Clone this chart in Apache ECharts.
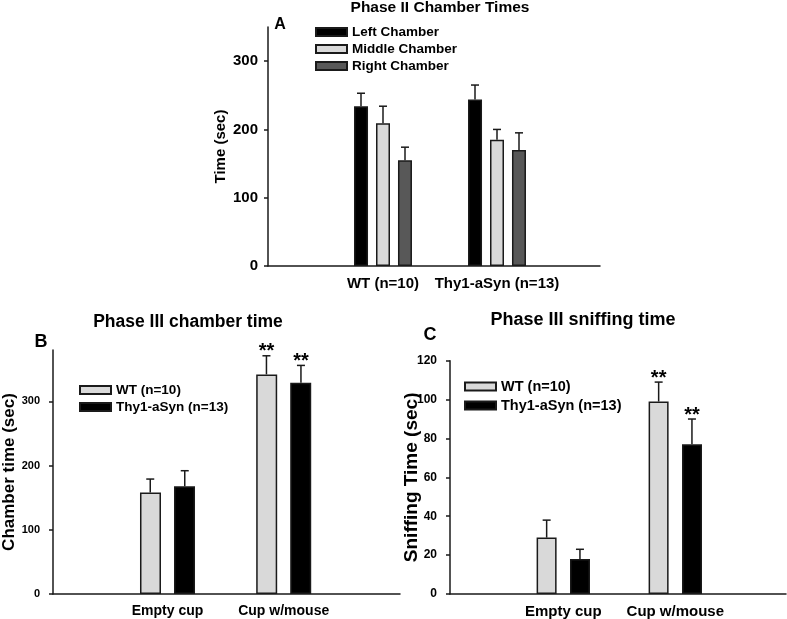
<!DOCTYPE html>
<html>
<head>
<meta charset="utf-8">
<script src="https://cdn.jsdelivr.net/npm/echarts@6/dist/echarts.min.js"></script>
<style>
  html, body { margin: 0; padding: 0; background: #fff; }
  #chart { width: 787px; height: 619px; }
</style>
</head>
<body>
<div id="chart"></div>
<script>
// Panel A: phase II chamber times
const groupsA = ['WT (n=10)', 'Thy1-aSyn (n=13)'];
const leftTime = [234, 244];
const leftErr = [19, 21];
const middleTime = [209, 185];
const middleErr = [25, 15];
const rightTime = [155, 170];
const rightErr = [19, 25];
const ticksA = [0, 100, 200, 300];

// Panels B and C: phase III
const cupCats = ['Empty cup', 'Cup w/mouse'];
const chamberWT = [158, 342];
const chamberWTErr = [21, 29];
const chamberTg = [168, 329];
const chamberTgErr = [24, 27];
const ticksB = [0, 100, 200, 300];

const sniffWT = [29, 99];
const sniffWTErr = [9, 10];
const sniffTg = [18, 77];
const sniffTgErr = [5, 13];
const ticksC = [0, 20, 40, 60, 80, 100, 120];

const sigWT = ['', '**'];
const sigTg = ['', '**'];

const FONT = '"Liberation Sans", Arial, sans-serif';
const BLACK = '#000000';
const LIGHT = '#d9d9d9';
const DARK = '#585858';
const LINE = '#1a1a1a';

const chart = echarts.init(document.getElementById('chart'));

function frameX(idx) {
  return {
    type: 'category', gridIndex: idx, data: ['', ''],
    axisLine: { lineStyle: { color: LINE, width: 1.5 } },
    axisTick: { show: false }, axisLabel: { show: false }
  };
}

function barX(idx, cats, size) {
  return {
    type: 'category', gridIndex: idx, data: cats,
    axisLine: { show: false }, axisTick: { show: false },
    axisLabel: { interval: 0, margin: 10, color: '#000', fontFamily: FONT, fontWeight: 'bold', fontSize: size }
  };
}

function frameY(idx, max, ticks, name, nameSize, gap, labelSize, labelMargin) {
  return {
    type: 'value', gridIndex: idx, min: 0, max: max,
    name: name, nameLocation: 'middle', nameGap: gap, nameRotate: 90, nameMoveOverlap: false,
    nameTextStyle: { color: '#000', fontFamily: FONT, fontWeight: 'bold', fontSize: nameSize },
    axisLine: { show: true, lineStyle: { color: LINE, width: 1.5 } },
    axisTick: { show: true, length: 4, customValues: ticks, lineStyle: { color: LINE, width: 1.5 } },
    axisLabel: { margin: labelMargin, customValues: ticks, color: '#000', fontFamily: FONT, fontWeight: 'bold', fontSize: labelSize },
    splitLine: { show: false }
  };
}

function hiddenY(idx, max) {
  return { type: 'value', gridIndex: idx, min: 0, max: max, show: false, splitLine: { show: false } };
}

function bars(name, axis, values, color, width, gap) {
  return {
    type: 'bar', name: name, xAxisIndex: axis, yAxisIndex: axis,
    data: values, barWidth: width, barGap: gap,
    itemStyle: { color: color, borderColor: LINE, borderWidth: 1.5 }
  };
}

function errorBars(axis, means, errs, offset, stars) {
  return {
    type: 'custom', xAxisIndex: axis, yAxisIndex: axis, z: 5, clip: false,
    data: means.map((m, i) => [i, m, errs[i]]),
    renderItem: function (params, api) {
      const i = params.dataIndex;
      const base = api.coord([api.value(0), api.value(1)]);
      const top = api.coord([api.value(0), api.value(1) + api.value(2)]);
      const x = base[0] + offset;
      const kids = [
        { type: 'line', shape: { x1: x, y1: base[1], x2: x, y2: top[1] }, style: { stroke: LINE, lineWidth: 1.5 } },
        { type: 'line', shape: { x1: x - 4, y1: top[1], x2: x + 4, y2: top[1] }, style: { stroke: LINE, lineWidth: 1.5 } }
      ];
      if (stars && stars[i]) {
        kids.push({
          type: 'text', x: x, y: top[1] - 4,
          style: { text: stars[i], align: 'center', verticalAlign: 'middle', fill: '#000', font: 'bold 20px ' + FONT }
        });
      }
      return { type: 'group', children: kids };
    }
  };
}

function label(text, x, y, size) {
  return {
    type: 'text', x: x, y: y,
    style: { text: text, align: 'center', verticalAlign: 'middle', fill: '#000', font: 'bold ' + size + 'px ' + FONT }
  };
}

const legendBase = {
  orient: 'vertical', icon: 'rect', itemWidth: 31, itemHeight: 8, padding: 0, selectedMode: false
};

const option = {
  animation: false,
  grid: [
    { left: 268, right: 187, top: 27, bottom: 353 },
    { left: 326, right: 233, top: 27, bottom: 353 },
    { left: 51, right: 387, top: 350, bottom: 25 },
    { left: 109.4, right: 445.2, top: 350, bottom: 25 },
    { left: 450, right: 1, top: 360.7, bottom: 25 },
    { left: 507.3, right: 55.7, top: 360.7, bottom: 25 }
  ],
  xAxis: [
    frameX(0), barX(1, groupsA, 15),
    frameX(2), barX(3, cupCats, 14),
    frameX(4), barX(5, cupCats, 15)
  ],
  yAxis: [
    frameY(0, 350, ticksA, 'Time (sec)', 15, 40, 15, 10), hiddenY(1, 350),
    frameY(2, 380, ticksB, 'Chamber time (sec)', 17, 35, 11, 13), hiddenY(3, 380),
    frameY(4, 120, ticksC, 'Sniffing Time (sec)', 19, 29, 12, 13), hiddenY(5, 120)
  ],
  legend: [
    Object.assign({}, legendBase, {
      data: ['Left Chamber', 'Middle Chamber', 'Right Chamber'], left: 315, top: 25, itemGap: 3,
      textStyle: { color: '#000', fontFamily: FONT, fontWeight: 'bold', fontSize: 13.5, lineHeight: 14 }
    }),
    Object.assign({}, legendBase, {
      data: ['WT (n=10)', 'Thy1-aSyn (n=13)'], left: 79, top: 383, itemGap: 3,
      textStyle: { color: '#000', fontFamily: FONT, fontWeight: 'bold', fontSize: 13.5, lineHeight: 14 }
    }),
    Object.assign({}, legendBase, {
      data: ['WT (n=10)', 'Thy1-aSyn (n=13)'], left: 464, top: 379, itemGap: 4,
      textStyle: { color: '#000', fontFamily: FONT, fontWeight: 'bold', fontSize: 14.5, lineHeight: 15 }
    })
  ],
  graphic: [
    label('Phase II Chamber Times', 440, 8, 15.5),
    label('A', 280, 25, 16),
    label('Phase III chamber time', 188, 322, 17.5),
    label('B', 41, 342, 18),
    label('Phase III sniffing time', 583, 320, 18),
    label('C', 430, 335, 18)
  ],
  series: [
    bars('Left Chamber', 1, leftTime, BLACK, 14, '57%'),
    bars('Middle Chamber', 1, middleTime, LIGHT, 14, '57%'),
    bars('Right Chamber', 1, rightTime, DARK, 14, '57%'),
    errorBars(1, leftTime, leftErr, -22),
    errorBars(1, middleTime, middleErr, 0),
    errorBars(1, rightTime, rightErr, 22),

    bars('WT (n=10)', 3, chamberWT, LIGHT, 21, '62%'),
    bars('Thy1-aSyn (n=13)', 3, chamberTg, BLACK, 21, '62%'),
    errorBars(3, chamberWT, chamberWTErr, -17.25, sigWT),
    errorBars(3, chamberTg, chamberTgErr, 17.25, sigTg),

    bars('WT (n=10)', 5, sniffWT, LIGHT, 20, '67%'),
    bars('Thy1-aSyn (n=13)', 5, sniffTg, BLACK, 20, '67%'),
    errorBars(5, sniffWT, sniffWTErr, -16.65, sigWT),
    errorBars(5, sniffTg, sniffTgErr, 16.65, sigTg)
  ]
};

chart.setOption(option);
</script>
</body>
</html>
